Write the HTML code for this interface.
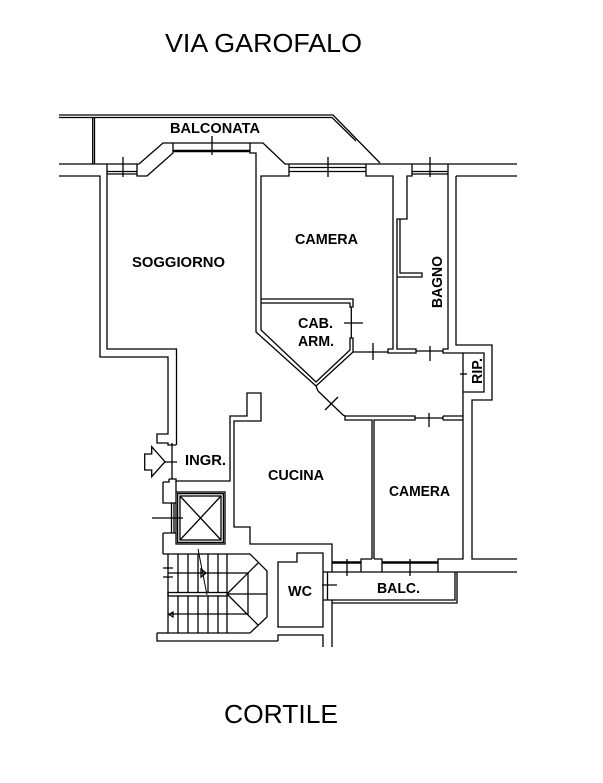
<!DOCTYPE html>
<html><head><meta charset="utf-8"><style>
html,body{margin:0;padding:0;background:#fff;}
svg{display:block;}
</style></head><body>
<svg width="603" height="783" viewBox="0 0 603 783" xmlns="http://www.w3.org/2000/svg">
<rect width="603" height="783" fill="#fff"/>
<g fill="none" stroke="#000" stroke-width="1.3">
<!-- balconata outer -->
<path d="M59,115H333L380,163"/>
<path d="M59,117.5H332L356,141"/>
<path d="M92.7,117.5V164M94.5,117.5V164"/>
<!-- facade -->
<path d="M59,164H139L163,143H263L285,164H517"/>
<path d="M59,176H100V357H168V434H157V443H168V445H176"/>
<path d="M107,164V349H176.5V445"/>
<!-- soggiorno window left -->
<path d="M107,171.5H137M107,174H137M137,164V176H147L173,153V143"/>
<path d="M123,157V177"/>
<!-- bay glass -->
<path d="M173,151H250" stroke-width="2.6"/>
<path d="M212,136V155"/>
<path d="M250,143V153H256V332L316,386L353,352H388"/>
<!-- camera 1 -->
<path d="M289,164V176H261V330L316,382L350,350V338H353V352"/>
<path d="M261,299H353V307H350V303H261"/>
<path d="M351.3,307V338"/>
<path d="M344,323H363"/>
<path d="M289,167.5H366M289,171.5H366"/>
<path d="M328,157V177"/>
<path d="M366,164V176H393V349H388V353H416V349H397V219H407V176H412V164"/>
<path d="M400,219V273H422V277H397"/>
<path d="M373,343V360"/>
<!-- bagno window -->
<path d="M412,171.5H448M412,174H448"/>
<path d="M430,157V177"/>
<path d="M448,164V349H443V353H463V559H438V572"/>
<path d="M416,351H443"/>
<path d="M430,346V361"/>
<path d="M456,176H517M456,176V345H492V400H472V559H517"/>
<!-- RIP -->
<path d="M463,353H484V392H463"/>
<path d="M460,374H467"/>
<!-- corridor bottom / diag door -->
<path d="M316,386L318,391"/>
<path d="M318,391L343,415L345,416H415V420H374V559"/>
<path d="M345,416V420H372V559"/>
<path d="M325,410L338,397"/>
<path d="M415,418H443"/>
<path d="M429,413V427"/>
<path d="M443,416H463M443,420H463M443,416V420"/>
<!-- kitchen -->
<path d="M169,479H176V481H230V416H247V393H261V421H234V527H250V544H332V572"/>
<path d="M361,572V559H372M374,559H382V572"/>
<path d="M332,562.5H361M382,562.5H438" stroke-width="2.6"/>
<path d="M347,559V576M410,559V576"/>
<!-- balcony -->
<path d="M323,572H517"/>
<path d="M332,600H455V572M332,603H457V572"/>
<!-- WC -->
<path d="M278,562H297V553H323V627H278Z"/>
<path d="M323,600H332M327.5,572V600M322,585H337"/>
<path d="M332,600V647"/>
<path d="M278,641V635H323V647"/>
<path d="M157,633V641H278"/>
<path d="M157,633H168"/>
<!-- entry -->
<path d="M172,443V479M165,462H177"/>
<path d="M144.7,454H151.7V446.7L165,461.7L151.7,476.7V470H144.7Z"/>
<!-- elevator side -->
<path d="M176,481V492"/>
<path d="M163,482H169V479M163,482V503H176M163,533H176M163,533V554"/>
<path d="M171.5,503V533M174,503V533"/>
<path d="M152,518H183"/>
<rect x="176" y="492" width="49" height="52"/>
<rect x="177.6" y="493.6" width="45.8" height="48.8"/>
<rect x="180" y="496" width="41" height="44"/>
<path d="M180,496L221,540M221,496L180,540"/>
<!-- stairs -->
<path d="M163,554H250L267,571V617L250,633H168V554"/>
<path d="M178,554V592.5M188,554V592.5M198,554V592.5M208,554V592.5M218,554V592.5M227,554V592.5"/>
<path d="M178,596V633M188,596V633M198,596V633M208,596V633M218,596V633M227,596V633"/>
<rect x="168" y="592.5" width="59" height="3.5"/>
<path d="M168,573H248V614H168"/>
<path d="M227,594L258,563M227,594L258,625M227,594H267"/>
<path d="M163,568H173M163,577H173"/>
<path d="M198,549L207,595" stroke-width="1"/>
<path d="M201,569V577L206,573Z"/>
<path d="M173,612V617L169,614.5Z"/>
</g>
<g font-family="'Liberation Sans', Arial, sans-serif" fill="#000">
<text x="165" y="52" font-size="26" textLength="197" lengthAdjust="spacingAndGlyphs">VIA GAROFALO</text>
<text x="224" y="723" font-size="26" textLength="114" lengthAdjust="spacingAndGlyphs">CORTILE</text>
<g font-weight="bold" font-size="14.5">
<text x="170" y="133" textLength="90" lengthAdjust="spacingAndGlyphs">BALCONATA</text>
<text x="132" y="267" textLength="93" lengthAdjust="spacingAndGlyphs">SOGGIORNO</text>
<text x="295" y="244" textLength="63" lengthAdjust="spacingAndGlyphs">CAMERA</text>
<text transform="translate(442,308) rotate(-90)" x="0" y="0" textLength="52" lengthAdjust="spacingAndGlyphs">BAGNO</text>
<text x="298" y="328" textLength="35" lengthAdjust="spacingAndGlyphs">CAB.</text>
<text x="298" y="346" textLength="36" lengthAdjust="spacingAndGlyphs">ARM.</text>
<text transform="translate(482,384) rotate(-90)" x="0" y="0" textLength="26" lengthAdjust="spacingAndGlyphs">RIP.</text>
<text x="185" y="465" textLength="41" lengthAdjust="spacingAndGlyphs">INGR.</text>
<text x="268" y="480" textLength="56" lengthAdjust="spacingAndGlyphs">CUCINA</text>
<text x="389" y="496" textLength="61" lengthAdjust="spacingAndGlyphs">CAMERA</text>
<text x="288" y="596" textLength="24" lengthAdjust="spacingAndGlyphs">WC</text>
<text x="377" y="593" textLength="43" lengthAdjust="spacingAndGlyphs">BALC.</text>
</g>
</g>
</svg>
</body></html>
